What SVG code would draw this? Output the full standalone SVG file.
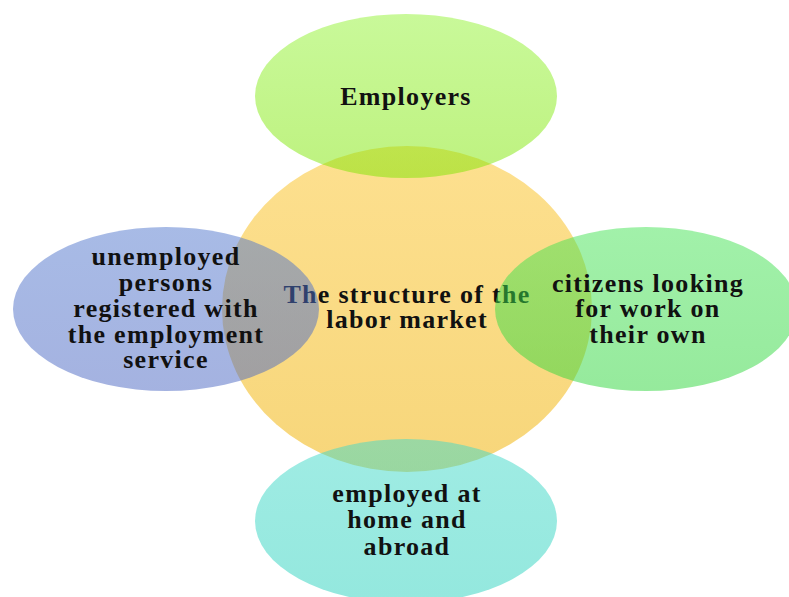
<svg xmlns="http://www.w3.org/2000/svg" width="789" height="597" viewBox="0 0 789 597">
  <defs>
    <linearGradient id="gCenter" x1="0" y1="0" x2="0" y2="1">
      <stop offset="0" stop-color="#fde08f"/>
      <stop offset="1" stop-color="#f7d67a"/>
    </linearGradient>
    <linearGradient id="gTop" x1="0" y1="0" x2="0" y2="1">
      <stop offset="0" stop-color="#93f335"/>
      <stop offset="1" stop-color="#7de500"/>
    </linearGradient>
    <linearGradient id="gLeft" x1="0" y1="0" x2="0" y2="1">
      <stop offset="0" stop-color="#5177cd"/>
      <stop offset="1" stop-color="#4a66c2"/>
    </linearGradient>
    <linearGradient id="gRight" x1="0" y1="0" x2="0" y2="1">
      <stop offset="0" stop-color="#45e355"/>
      <stop offset="1" stop-color="#2dd53a"/>
    </linearGradient>
    <linearGradient id="gBottom" x1="0" y1="0" x2="0" y2="1">
      <stop offset="0" stop-color="#41d9c9"/>
      <stop offset="1" stop-color="#29d1bd"/>
    </linearGradient>
  </defs>
  <style>
    .lbl { font-family: "Liberation Serif", "Times New Roman", serif; font-weight: bold; font-size: 26px; letter-spacing: 1.3px; fill: #111111; text-anchor: middle; }
    .sat { fill-opacity: 0.5; }
  </style>
  <rect width="789" height="597" fill="#ffffff"/>

  <!-- hub -->
  <g id="labor-market">
    <ellipse cx="407" cy="309" rx="185" ry="163" fill="url(#gCenter)"/>
    <text class="lbl" x="407" y="303">The structure of the</text>
    <text class="lbl" x="407" y="328">labor market</text>
  </g>

  <!-- satellites, semi-transparent over the hub -->
  <g id="employers">
    <ellipse class="sat" cx="406" cy="96" rx="151" ry="82" fill="url(#gTop)"/>
    <text class="lbl" x="406" y="105">Employers</text>
  </g>

  <g id="unemployed-registered">
    <ellipse class="sat" cx="166" cy="309" rx="153" ry="82" fill="url(#gLeft)"/>
    <text class="lbl" x="166" y="265">unemployed</text>
    <text class="lbl" x="166" y="291">persons</text>
    <text class="lbl" x="166" y="317">registered with</text>
    <text class="lbl" x="166" y="343">the employment</text>
    <text class="lbl" x="166" y="368">service</text>
  </g>

  <g id="citizens-looking">
    <ellipse class="sat" cx="646" cy="309" rx="151" ry="82" fill="url(#gRight)"/>
    <text class="lbl" x="648" y="292">citizens looking</text>
    <text class="lbl" x="648" y="317">for work on</text>
    <text class="lbl" x="648" y="343">their own</text>
  </g>

  <g id="employed-home-abroad">
    <ellipse class="sat" cx="406" cy="521" rx="151" ry="82" fill="url(#gBottom)"/>
    <text class="lbl" x="407" y="502">employed at</text>
    <text class="lbl" x="407" y="528">home and</text>
    <text class="lbl" x="407" y="555">abroad</text>
  </g>
</svg>
